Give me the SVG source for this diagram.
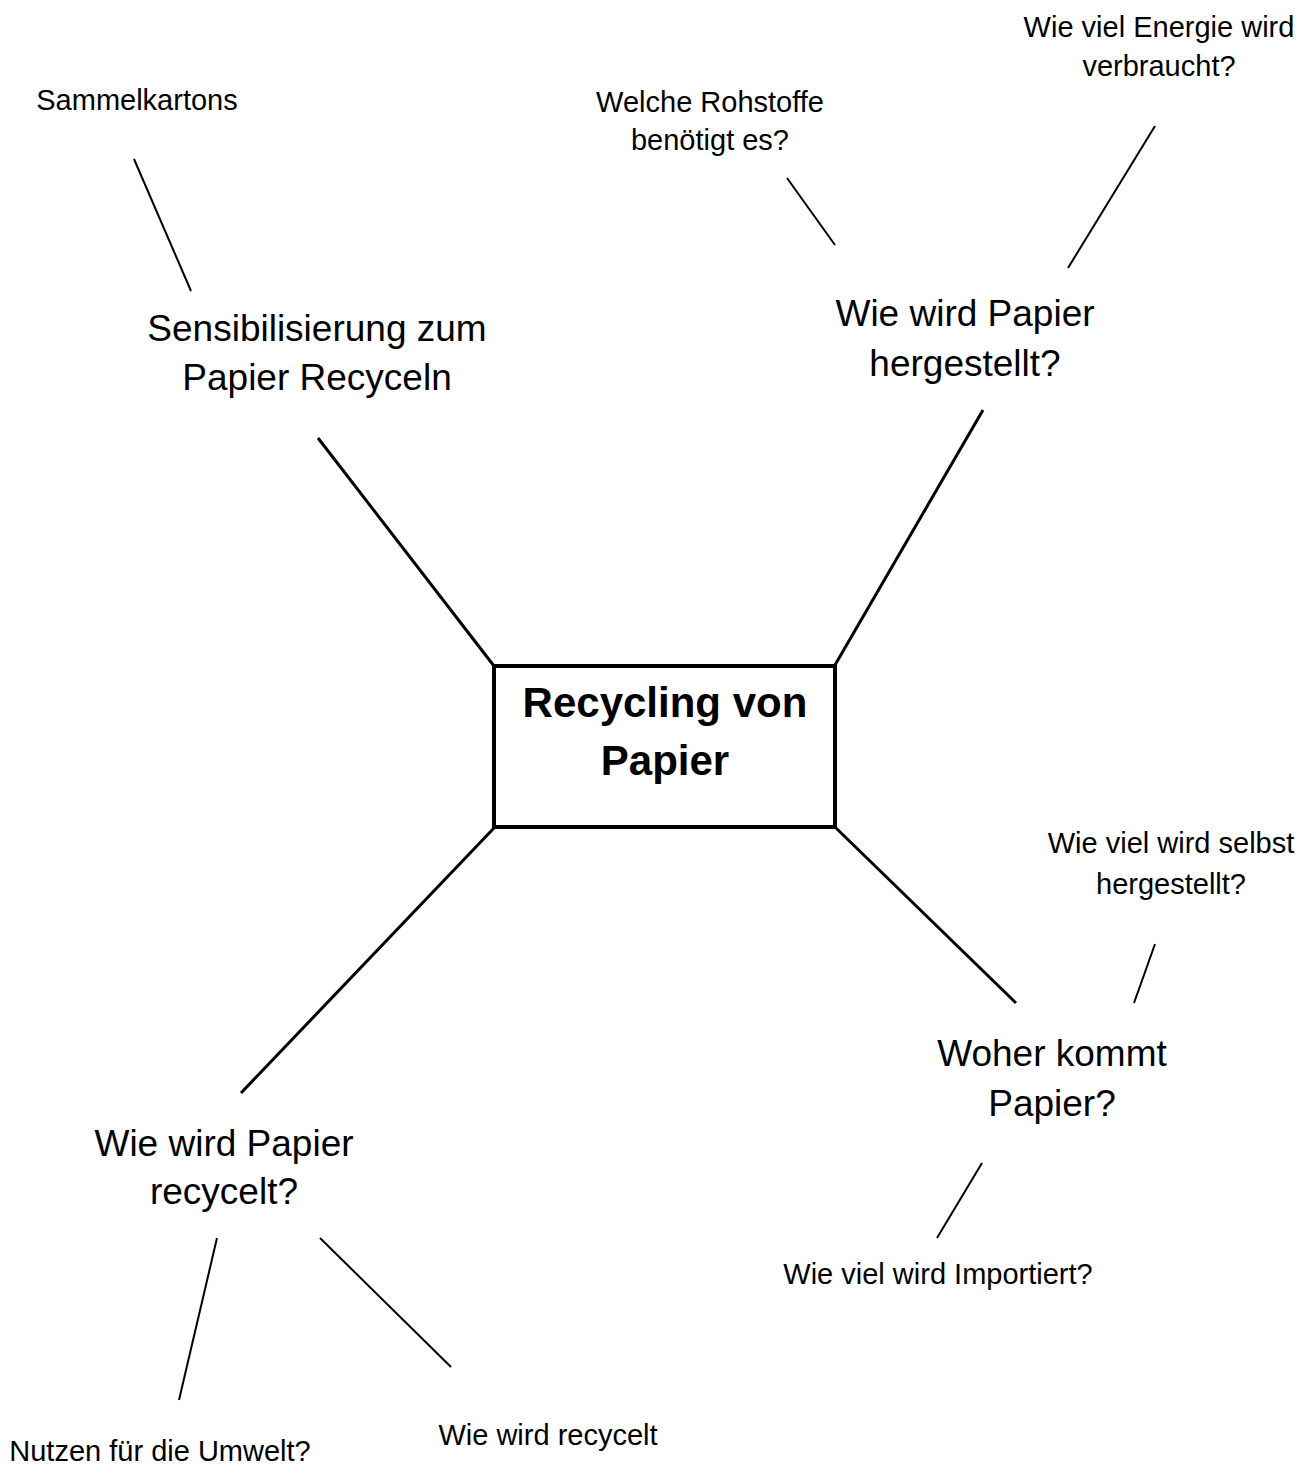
<svg xmlns="http://www.w3.org/2000/svg" width="1316" height="1468" viewBox="0 0 1316 1468">
<style>
  text { font-family: "Liberation Sans", Arial, sans-serif; fill: #000; text-anchor: middle; }
  .big { font-size: 37px; }
  .small { font-size: 29px; }
  .center { font-size: 42px; font-weight: bold; }
  .main { stroke: #000; stroke-width: 3; fill: none; }
  .sub { stroke: #000; stroke-width: 2; fill: none; }
</style>
<rect width="1316" height="1468" fill="#fff"/>
<g id="connectors">
  <line class="main" x1="494" y1="666" x2="318" y2="438"/>
  <line class="main" x1="835" y1="665" x2="983" y2="410"/>
  <line class="main" x1="494" y1="828" x2="241" y2="1093"/>
  <line class="main" x1="836" y1="828" x2="1016" y2="1003"/>
  <line class="sub" x1="134" y1="159" x2="191" y2="291"/>
  <line class="sub" x1="787" y1="178" x2="835" y2="245"/>
  <line class="sub" x1="1155" y1="126" x2="1068" y2="268"/>
  <line class="sub" x1="1155" y1="944" x2="1134" y2="1003"/>
  <line class="sub" x1="982" y1="1163" x2="937" y2="1238"/>
  <line class="sub" x1="217" y1="1238" x2="179" y2="1400"/>
  <line class="sub" x1="320" y1="1238" x2="451" y2="1367"/>
</g>
<g id="center">
  <rect x="494" y="666" width="341" height="161" fill="#fff" stroke="#000" stroke-width="4"/>
  <text class="center" x="665" y="717">Recycling von</text>
  <text class="center" x="665" y="775">Papier</text>
</g>
<g id="sensibilisierung">
  <text class="big" x="317" y="341">Sensibilisierung zum</text>
  <text class="big" x="317" y="390">Papier Recyceln</text>
</g>
<g id="sammelkartons">
  <text class="small" x="137" y="110">Sammelkartons</text>
</g>
<g id="hergestellt">
  <text class="big" x="965" y="326">Wie wird Papier</text>
  <text class="big" x="965" y="376">hergestellt?</text>
</g>
<g id="rohstoffe">
  <text class="small" x="710" y="112">Welche Rohstoffe</text>
  <text class="small" x="710" y="150">benötigt es?</text>
</g>
<g id="energie">
  <text class="small" x="1159" y="37">Wie viel Energie wird</text>
  <text class="small" x="1159" y="76">verbraucht?</text>
</g>
<g id="woher">
  <text class="big" x="1052" y="1066">Woher kommt</text>
  <text class="big" x="1052" y="1116">Papier?</text>
</g>
<g id="selbst">
  <text class="small" x="1171" y="853">Wie viel wird selbst</text>
  <text class="small" x="1171" y="894">hergestellt?</text>
</g>
<g id="importiert">
  <text class="small" x="938" y="1284">Wie viel wird Importiert?</text>
</g>
<g id="recycelt">
  <text class="big" x="224" y="1156">Wie wird Papier</text>
  <text class="big" x="224" y="1204">recycelt?</text>
</g>
<g id="nutzen">
  <text class="small" x="160" y="1461">Nutzen für die Umwelt?</text>
</g>
<g id="wierecycelt">
  <text class="small" x="548" y="1445">Wie wird recycelt</text>
</g>
</svg>
